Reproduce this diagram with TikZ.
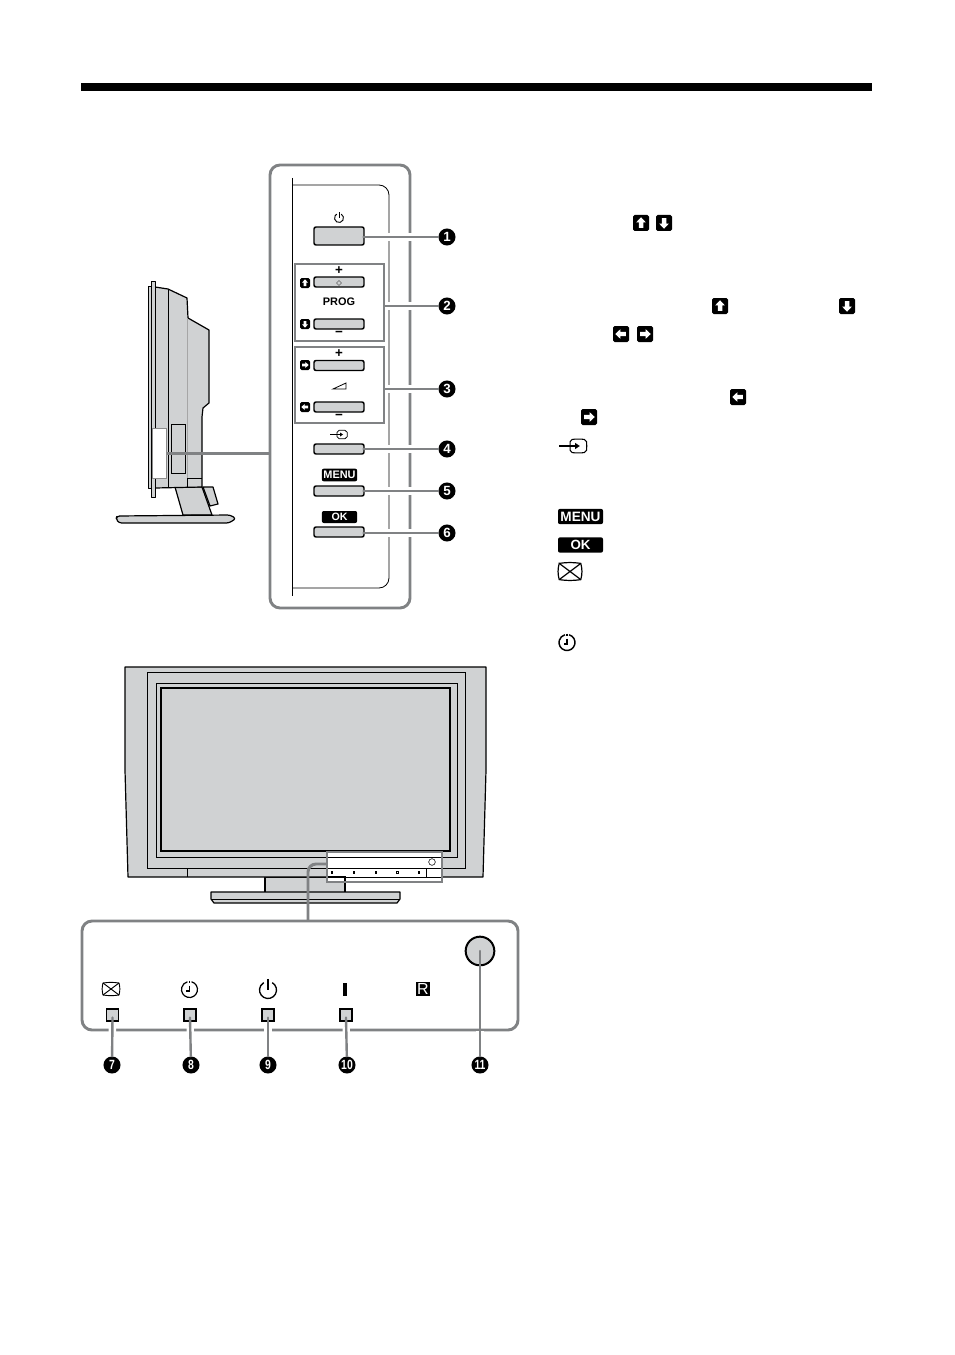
\documentclass[tikz,border=0pt]{standalone}
\usepackage{fontspec}
\usepackage{graphicx}
\setmainfont{Liberation Sans}
\usepackage{tikz}
\definecolor{panelgray}{HTML}{D0D2D3}
\definecolor{leadgray}{HTML}{808284}
\tikzset{
  tvline/.style={draw=black,line width=0.9pt,line join=round},
  thinline/.style={draw=black,line width=0.6pt},
  btn/.style={draw=black,line width=1.1pt,fill=panelgray,rounded corners=1.5pt,minimum width=37.5pt,minimum height=7.5pt,inner sep=0pt},
  frame/.style={draw=leadgray,line width=2.2pt,rounded corners=7.5pt,inner sep=0pt},
  groupbox/.style={draw=leadgray,line width=0.8pt,inner sep=0pt,minimum width=66.75pt},
  leader/.style={draw=leadgray,line width=1.8pt,line cap=round},
  halo/.style={leader,preaction={draw=white,line width=5.5pt,line cap=butt,shorten <=#1}},
  badge/.style={circle,fill=black,text=white,minimum size=12.8pt,inner sep=0pt,font=\fontsize{10}{10}\selectfont\bfseries},
  led/.style={draw=black,line width=1.3pt,fill=panelgray,inner sep=0pt},
  tag/.style={fill=black,text=white,rounded corners=1.5pt,inner sep=0pt,font=\bfseries},
  glyph/.style={inner sep=0pt,font=\fontsize{10}{10}\selectfont\bfseries},
  keyicon/.pic={
    \fill[black,rounded corners=1.2pt] (-5,-5) rectangle (5,5);
    \fill[white] (0,-3.6) -- (3,-0.4) -- (1.4,-0.4) -- (1.4,3) -- (-1.4,3) -- (-1.4,-0.4) -- (-3,-0.4) -- cycle;
  },
  powericon/.pic={
    \draw (-60:5) arc (-60:240:5);
    \draw (0,-6.5) -- (0,0);
  },
  clockicon/.pic={
    \draw (-75:8) arc (-75:255:8);
    \draw (0,-9) -- (0,-6.5);
    \draw (0,-4) -- (0,1.5) -- (-3.5,1.5);
  },
  inputicon/.pic={
    \draw[rounded corners=1.5] (-3,-4) to[bend left=6] (7,-4) to[bend left=8] (7,4) to[bend left=6] (-3,4) -- cycle;
    \draw (-10,0) -- (0.5,0);
    \fill (3,0) -- (0,-2) -- (0,2) -- cycle;
  },
  mutedicon/.pic={
    \draw (-8,-6) to[bend left=8] (8,-6) to[bend left=14] (8,6) to[bend left=8] (-8,6) to[bend left=14] cycle;
    \draw (-8,-6) -- (8,6) (-8,6) -- (8,-6);
  }
}
\begin{document}
\begin{tikzpicture}[x=0.75pt,y=-0.75pt]
\useasboundingbox (0,0) rectangle (954,1355);
\fill[black] (81,83) rectangle (872,91);

\draw[tvline,fill=panelgray] (203,487) -- (213,487) -- (218,504) -- (210,506) -- (206,495) -- cycle;
\draw[tvline,fill=panelgray] (175,487) -- (183,515) -- (212,515) -- (202,487) -- cycle;
\draw[tvline,fill=panelgray,rounded corners=2pt] (117,516) -- (230,515) -- (236,518.5) -- (229,523) -- (119,523) -- (116,519) -- cycle;
\draw[tvline,fill=panelgray] (155,287) -- (168,289) -- (187,298) -- (188,318) -- (209,330) -- (209,403) -- (203,408) -- (202,417) -- (202,487) -- (155,488) -- cycle;
\draw[tvline,line width=0.6pt,fill=panelgray] (148.5,286) rectangle (151,488);
\draw[tvline,line width=0.7pt,fill=panelgray] (151,281) rectangle (155,497);
\draw[thinline] (168,289) -- (168,487);
\draw[draw=black!35,line width=0.5pt] (187,318) -- (187,478);
\draw[thinline] (187,478) -- (202,478) (187,478) -- (187,487);
\draw[thinline] (171,424) rectangle (185,473);
\node[draw=black!45,line width=0.6pt,fill=white,minimum width=10.5pt,minimum height=38pt,inner sep=0pt] (sideport) at (159.5,453.5) {};

\node[frame,minimum width=105pt,minimum height=332.25pt] (sideframe) at (340,386.5) {};
\draw[thinline,line width=0.7pt] (292.5,178) -- (292.5,596);
\draw[thinline,rounded corners=7.5pt] (292.5,185) -- (389,185) -- (389,588) -- (292.5,588);
\draw[leader,line cap=butt] (sideport.east) -- (sideport.east -| sideframe.west);

\node[groupbox,minimum height=57.75pt] (progbox) at (339.5,302.5) {};
\node[groupbox,minimum height=57pt] (volbox) at (339.5,385) {};

\node[btn,minimum height=13.5pt] (btn1) at (339,236) {};
\node[btn] (btn2a) at (339,282) {};
\node[btn] (btn2b) at (339,324) {};
\node[btn] (btn3a) at (339,365.5) {};
\node[btn] (btn3b) at (339,407) {};
\node[btn] (btn4) at (339,449) {};
\node[btn] (btn5) at (339,491) {};
\node[btn] (btn6) at (339,532) {};

\pic[line width=0.7pt,scale=0.9] at (339,218) {powericon};
\node[glyph] (plus2) at (339,271) {+};
\node[glyph] (minus2) at (339,334) {−};
\node[glyph] (plus3) at (339,354) {+};
\node[glyph] (minus3) at (339,417) {−};
\node[inner sep=0pt,font=\fontsize{8.2}{8}\selectfont\bfseries] (prog) at (339,302) {PROG};
\draw[draw=black!60,line width=0.4pt] (339,280.5) -- (341.5,283) -- (339,285.5) -- (336.5,283) -- cycle;
\draw[thinline] (333,389) -- (346,383) -- (346,389) -- cycle;
\pic[line width=0.55pt,scale=1] at (340,434.5) {inputicon};
\node[tag,minimum width=26.5pt,minimum height=9.5pt] (menu1) at (339.5,475) {\fontsize{8.2}{8}\selectfont MENU};
\node[tag,minimum width=26.5pt,minimum height=9pt] (ok1) at (339.5,517) {\fontsize{8}{8}\selectfont OK};

\foreach \x/\y/\r in {305/283/0,305/324/180,305/365/270,305/407/90}{
  \pic[rotate=\r] at (\x,\y) {keyicon};
}

\foreach \n/\y in {1/237,4/449,5/491,6/533}{
  \node[badge] (b\n) at (447,\y) {\n};
  \draw[halo=3pt] ([xshift=-1pt]btn\n.east |- b\n) -- (b\n);
}
\node[badge] (b2) at (447,306) {2};
\draw[halo=2pt] (progbox.east |- b2) -- (b2);
\node[badge] (b3) at (447,389) {3};
\draw[halo=2pt] (volbox.east |- b3) -- (b3);

\draw[tvline,fill=panelgray] (265,877) rectangle (345,893);
\draw[tvline,fill=panelgray] (211,892) -- (400,892) -- (400,899) -- (397,903) -- (214,903) -- (211,899) -- cycle;
\draw[thinline] (212,899) -- (399,899);
\draw[tvline,fill=panelgray] (125,667) -- (486,667) -- (486,770) -- (483,877) -- (128,877) -- (125,770) -- cycle;
\draw[thinline] (147,672) rectangle (465,868);
\draw[thinline] (156,683) rectangle (457,857);
\draw[black,line width=1.6pt] (161,688) rectangle (450,851);
\draw[thinline] (187,868) -- (187,877);

\node[draw=leadgray,line width=1.2pt,fill=white,minimum width=86.25pt,minimum height=22.5pt,inner sep=0pt] (frontbox) at (384.5,867) {};
\draw[thinline,line width=0.7pt] (328,857) -- (441,857);
\draw[thinline,line width=0.7pt] (328,868) -- (441,868);
\draw[thinline] (426,868) -- (426,877);
\draw[black,line width=0.6pt] (345,877) -- (441,877);
\draw[black,line width=1.1pt] (328,877) -- (345,877) -- (345,881);
\node[circle,draw=black,line width=0.4pt,minimum size=5pt,inner sep=0pt] (sensorfront) at (432,862) {};
\foreach \x in {332,354,376,419}{
  \fill[black] (\x-1,870.5) rectangle (\x+1,873.5);
}
\draw[black,line width=0.5pt] (396,871) rectangle (398.5,873.5);

\node[frame,minimum width=327pt,minimum height=81.75pt] (frontframe) at (300,975.5) {};
\coordinate (leadstart) at (327,864);
\coordinate (leadend) at (308,921);
\draw[leader,line width=2.2pt,line cap=butt,rounded corners=6pt] (leadstart) -| (leadend);

\pic[line width=0.7pt,scale=1] at (111,989) {mutedicon};
\pic[line width=0.9pt,scale=1] at (189.5,989.5) {clockicon};
\pic[line width=1pt,scale=1.7] at (268,990) {powericon};
\fill[black] (343,983) rectangle (347,996);
\node[fill=black,text=white,minimum size=11pt,inner sep=0pt,font=\fontsize{12}{12}\selectfont] (irlabel) at (423,989) {R};

\foreach \n/\x/\bx/\s in {7/112.5/112/12,8/190/191/11.5,9/268/268/11.5,10/346/347/12}{
  \node[led,minimum size=\s*0.75pt] (led\n) at (\x,1015) {};
  \node[badge] (b\n) at (\bx,1065) {\scalebox{0.78}[1]{\n}};
  \draw[halo=5pt] ([yshift=-2pt]led\n.center) -- (b\n);
}
\node[circle,draw=black,line width=1.5pt,fill=panelgray,minimum size=21.5pt,inner sep=0pt] (sensor) at (480,951) {};
\node[badge] (b11) at (480,1065) {\scalebox{0.78}[1]{11}};
\draw[halo=60pt] (sensor.center) -- (b11);

\foreach \x/\y/\r in {641/223/0,664/223/180,720/306/0,847/306/180,621/334/90,645/334/270,738/397/90,589/417/270}{
  \pic[rotate=\r,scale=1.6] at (\x,\y) {keyicon};
}
\pic[line width=0.8pt,scale=1.6] at (575,446) {inputicon};
\node[tag,minimum width=33.75pt,minimum height=11.5pt] (menu2) at (580.5,516.5) {\fontsize{10.2}{10}\selectfont MENU};
\node[tag,minimum width=33.75pt,minimum height=11.5pt] (ok2) at (580.5,545) {\fontsize{10}{10}\selectfont OK};
\pic[line width=0.9pt,scale=1.35] at (570,571.5) {mutedicon};
\pic[line width=1.1pt,scale=1] at (567,642.5) {clockicon};
\end{tikzpicture}
\end{document}
